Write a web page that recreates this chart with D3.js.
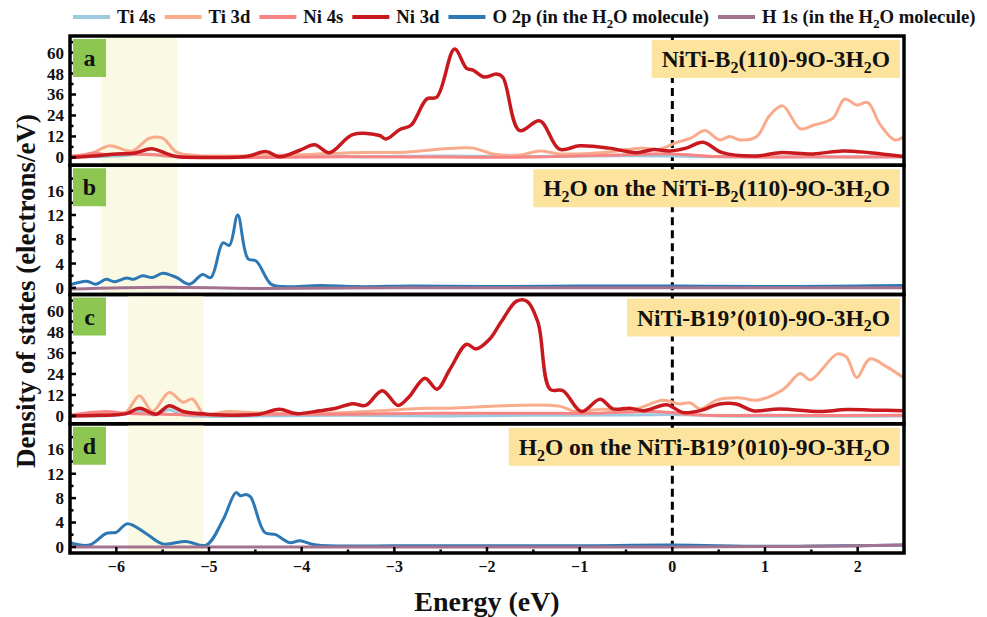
<!DOCTYPE html>
<html>
<head>
<meta charset="utf-8">
<script src="https://cdn.jsdelivr.net/npm/d3@7"></script>
<style>
  body { margin: 0; background: #fff; }
  text { font-family: "Liberation Serif", "Times New Roman", serif; font-weight: bold; fill: #111; }
</style>
</head>
<body>
<script>
var width = 987,
    height = 617;

var left = 70, right = 904, top0 = 36, bottom0 = 553;
var panelH = (bottom0 - top0) / 4;

// ***** DATA (energy eV, DOS electrons/eV) *****
var energyTicks = [-6, -5, -4, -3, -2, -1, 0, 1, 2];
var ticksBig = [0, 12, 24, 36, 48, 60];
var ticksSmall = [0, 4, 8, 12, 16];

var legendNames = ["Ti 4s", "Ti 3d", "Ni 4s", "Ni 3d", "O 2p (in the H\u2082O molecule)", "H 1s (in the H\u2082O molecule)"];
var legendColors = ["#9ecae1", "#f9ab8c", "#f98484", "#c8191e", "#2c78b4", "#a3728f"];

// panel a
var tiS_a = [[-6.5,0.5],[-6.0,0.8],[-5.7,2],[-5.5,1],[-5.2,0.3],[-4.2,0.2],[-3.8,1.5],[-3.5,0.5],[-2.5,0.8],[-1.5,0.5],[-0.5,1],[0,0.8],[0.5,0.3],[1.5,0.2],[2.5,0.2]];
var tiD_a = [[-6.5,1],[-6.3,1.5],[-6.07,6.6],[-5.9,4],[-5.82,3.7],[-5.64,11],[-5.5,11],[-5.35,3],[-5.1,1],[-4.5,1],[-4.0,1.5],[-3.48,2.7],[-2.9,3],[-2.37,5.3],[-2.15,5.3],[-1.94,2],[-1.65,1.3],[-1.43,3.7],[-1.22,2],[-0.7,3],[-0.35,5.3],[-0.14,4.7],[0.05,8.6],[0.2,11],[0.35,15.4],[0.51,10],[0.62,12],[0.73,10],[0.91,12],[1.05,24],[1.19,29.5],[1.38,16.4],[1.52,18.4],[1.73,22.3],[1.86,33.4],[1.99,30],[2.11,31.4],[2.24,19],[2.40,10],[2.5,12]];
var niS_a = [[-6.5,0.5],[-6.35,1.5],[-6.25,2.5],[-6.1,1.5],[-5.9,2],[-5.6,1.5],[-5.3,0.3],[-4.5,0],[-3.5,0.3],[-2.5,0.2],[-1.5,0.2],[-0.5,1.5],[0,2],[0.5,0.5],[1.5,0.3],[2.5,0.3]];
var niD_a = [[-6.5,0],[-6.2,1],[-6.0,2],[-5.8,2.5],[-5.62,4.9],[-5.45,2],[-5.35,0.5],[-5.0,0],[-4.6,0.5],[-4.38,3.3],[-4.24,0.3],[-4.02,4.1],[-3.86,7.2],[-3.70,2.7],[-3.45,13],[-3.16,12.5],[-3.09,10.5],[-2.94,16],[-2.82,18.4],[-2.65,33.4],[-2.54,34.6],[-2.35,62],[-2.22,51],[-2.15,50],[-2.03,46],[-1.90,47.7],[-1.83,46],[-1.65,15.4],[-1.43,20.9],[-1.22,4.7],[-1.0,6.6],[-0.68,5.3],[-0.39,2.7],[-0.2,4.5],[-0.03,3.7],[0.15,5.3],[0.33,8.6],[0.54,2.7],[0.91,0.8],[1.16,2.7],[1.52,2],[1.84,3.7],[2.13,2.7],[2.5,0.5]];

// panel b
var oP_b = [[-6.5,0.5],[-6.32,1.1],[-6.22,0.6],[-6.11,1.4],[-6.02,1.0],[-5.89,1.6],[-5.81,1.4],[-5.72,2.0],[-5.61,1.7],[-5.5,2.4],[-5.35,1.7],[-5.21,0.6],[-5.07,2.2],[-4.98,1.7],[-4.85,7.4],[-4.78,7.0],[-4.69,12],[-4.58,4.8],[-4.49,4.4],[-4.33,0.6],[-4.2,0.2],[-3.8,0.4],[-3.4,0.2],[-2.8,0.3],[-2.0,0.2],[-1.0,0.3],[0,0.3],[1.0,0.2],[2.0,0.3],[2.5,0.4]];
var hS_b = [[-6.5,-0.2],[-5.5,0.1],[-4.5,-0.1],[-3,0],[-1,0],[0,0],[1,0],[2.5,0]];

// panel c
var tiS_c = [[-6.5,0],[-6,0.3],[-5.75,2.5],[-5.6,0.5],[-5.43,3.5],[-5.28,0.5],[-4.5,0],[-3.5,0.3],[-2.5,0],[-1.5,0.3],[-0.5,0.5],[0,0.8],[0.5,0],[2.5,0]];
var tiD_c = [[-6.5,0.5],[-6.1,1.5],[-5.9,2],[-5.75,11.6],[-5.61,2.5],[-5.43,13.4],[-5.28,7.8],[-5.18,9.7],[-5.05,1],[-4.8,2.5],[-4.4,1.5],[-3.5,2],[-2.65,4.4],[-2.4,4.4],[-1.75,6],[-1.22,5.6],[-1.05,2.5],[-0.78,3.8],[-0.4,4],[-0.1,9],[0.08,6.8],[0.19,7.5],[0.30,4],[0.48,9],[0.73,10.3],[0.91,9],[1.20,15.3],[1.38,24.3],[1.49,20.6],[1.78,35.5],[1.88,33.6],[1.99,22],[2.13,32.6],[2.31,28.2],[2.5,21.7]];
var niS_c = [[-6.5,0.5],[-6.1,2.5],[-5.9,1.5],[-5.5,1],[-5,0.5],[-4.3,1],[-3.5,1],[-2.5,1.5],[-1.5,1.5],[-0.8,1.5],[-0.2,2.5],[0.3,0.5],[1,0.3],[2.5,0.3]];
var niD_c = [[-6.5,0],[-6.2,0.3],[-5.89,1.3],[-5.75,4.4],[-5.57,1],[-5.43,5.8],[-5.28,2.5],[-5.03,1],[-4.46,1],[-4.24,3.8],[-4.06,1.3],[-3.81,2.9],[-3.63,4.4],[-3.45,7],[-3.31,6],[-3.13,14.4],[-2.96,6],[-2.84,11],[-2.67,21.6],[-2.54,15.3],[-2.40,26.7],[-2.22,41],[-2.12,38.3],[-1.97,44],[-1.85,53.6],[-1.68,65.7],[-1.57,65.7],[-1.45,53.6],[-1.32,15.3],[-1.18,14.4],[-0.98,2.5],[-0.78,9.5],[-0.64,4],[-0.46,4.4],[-0.30,3],[-0.06,6.4],[0.11,2],[0.30,3],[0.51,6.8],[0.69,6.8],[0.87,3],[1.16,4],[1.59,2.5],[1.88,3.6],[2.16,3.3],[2.5,3]];

// panel d
var oP_d = [[-6.5,0.7],[-6.29,0.3],[-6.11,2.2],[-6.0,2.4],[-5.88,3.8],[-5.68,2.2],[-5.5,0.5],[-5.25,0.9],[-5.03,0.3],[-4.85,4.4],[-4.71,8.9],[-4.66,8.4],[-4.6,8.6],[-4.55,8.2],[-4.40,2.4],[-4.28,2.0],[-4.13,0.7],[-4.02,1],[-3.84,0.3],[-3,0.2],[-2,0.2],[-1,0.2],[0,0.3],[1,0.1],[2,0.2],[2.5,0.3]];
var hS_d = [[-6.5,0],[-4,0],[0,0],[1.5,0.1],[2.5,0.3]];

// titles: [text, subscript?]
var titleA = [["NiTi-B",0],["2",1],["(110)-9O-3H",0],["2",1],["O",0]];
var titleB = [["H",0],["2",1],["O on the NiTi-B",0],["2",1],["(110)-9O-3H",0],["2",1],["O",0]];
var titleC = [["NiTi-B19\u2019(010)-9O-3H",0],["2",1],["O",0]];
var titleD = [["H",0],["2",1],["O on the NiTi-B19\u2019(010)-9O-3H",0],["2",1],["O",0]];

var panels = [
  {key: "a", title: titleA, band: [-6.16, -5.34], ydomain: [-4.5, 69.5], ticks: ticksBig,
   series: [[tiS_a, 0], [tiD_a, 1], [niS_a, 2], [niD_a, 3]]},
  {key: "b", title: titleB, band: [-6.16, -5.34], ydomain: [-1.1, 20.2], ticks: ticksSmall,
   series: [[oP_b, 4], [hS_b, 5]]},
  {key: "c", title: titleC, band: [-5.87, -5.06], ydomain: [-4.5, 69.5], ticks: ticksBig,
   series: [[tiS_c, 0], [tiD_c, 1], [niS_c, 2], [niD_c, 3]]},
  {key: "d", title: titleD, band: [-5.87, -5.06], ydomain: [-1.0, 20.2], ticks: ticksSmall,
   series: [[oP_d, 4], [hS_d, 5]]}
];

var svg = d3.select("body").append("svg")
    .attr("width", width)
    .attr("height", height);

var x = d3.scaleLinear().domain([-6.5, 2.5]).range([left, right]);

function addRich(sel, pieces, size) {
  var sub = false;
  pieces.forEach(function(p) {
    var t = sel.append("tspan").text(p[0]);
    if (p[1] && !sub) { t.attr("dy", size * 0.25).attr("font-size", size * 0.68); sub = true; }
    else if (!p[1] && sub) { t.attr("dy", -size * 0.25); sub = false; }
    else if (p[1]) { t.attr("font-size", size * 0.68); }
  });
}

// *****
// PANELS
// *****
panels.forEach(function(p, i) {
  var top = top0 + i * panelH, bot = top + panelH;
  var y = d3.scaleLinear().domain(p.ydomain).range([bot, top]);
  var g = svg.append("g");

  g.append("clipPath").attr("id", "clip" + i)
    .append("rect").attr("x", left).attr("y", top).attr("width", right - left).attr("height", panelH);

  // highlighted energy window
  g.append("rect")
    .attr("x", x(p.band[0])).attr("y", top)
    .attr("width", x(p.band[1]) - x(p.band[0])).attr("height", panelH)
    .attr("fill", "#f9f9e4");

  // fermi level
  g.append("line")
    .attr("x1", x(0)).attr("x2", x(0)).attr("y1", top).attr("y2", bot)
    .attr("stroke", "#000").attr("stroke-width", 3).attr("stroke-dasharray", "8,5");

  var line = d3.line()
    .x(function(d) { return x(d[0]); })
    .y(function(d) { return y(d[1]); })
    .curve(d3.curveCatmullRom.alpha(0.5));

  g.append("g").attr("clip-path", "url(#clip" + i + ")")
    .selectAll("path")
    .data(p.series)
    .enter().append("path")
    .attr("d", function(d) { return line(d[0]); })
    .attr("fill", "none")
    .attr("stroke", function(d) { return legendColors[d[1]]; })
    .attr("stroke-width", function(d) { return d[1] == 3 ? 3.5 : 3; })
    .attr("stroke-linejoin", "round");

  // y ticks (inward) + minor ticks
  var step = p.ticks[1] - p.ticks[0];
  var minor = p.ticks.map(function(t) { return t + step / 2; }).filter(function(t) { return y(t) > top + 2; });
  g.selectAll("line.maj").data(p.ticks).enter().append("line")
    .attr("x1", left).attr("x2", left + 6)
    .attr("y1", function(d) { return y(d); }).attr("y2", function(d) { return y(d); })
    .attr("stroke", "#000").attr("stroke-width", 2.5);
  g.selectAll("line.min").data(minor).enter().append("line")
    .attr("x1", left).attr("x2", left + 3.5)
    .attr("y1", function(d) { return y(d); }).attr("y2", function(d) { return y(d); })
    .attr("stroke", "#000").attr("stroke-width", 2.5);
  g.selectAll("text.tick").data(p.ticks).enter().append("text")
    .attr("x", left - 6).attr("y", function(d) { return y(d); })
    .attr("dy", "0.35em").attr("text-anchor", "end")
    .attr("font-size", 17)
    .text(function(d) { return d; });

  // panel letter
  g.append("rect").attr("x", 73).attr("y", top + 3).attr("width", 33).attr("height", 38).attr("fill", "#8dc751");
  g.append("text").attr("x", 89.5).attr("y", top + 30).attr("text-anchor", "middle")
    .attr("font-size", 24).text(p.key);

  // title box
  var box = g.append("rect").attr("fill", "#fde49e");
  var tt = g.append("text").attr("y", top + 31).attr("font-size", 23.5);
  addRich(tt, p.title, 23.5);
  var w = tt.node().getComputedTextLength();
  tt.attr("x", 890 - w);
  box.attr("x", 890 - w - 10).attr("y", top + 4).attr("width", w + 20).attr("height", 38);

  // frame
  g.append("rect")
    .attr("x", left).attr("y", top).attr("width", right - left).attr("height", panelH)
    .attr("fill", "none").attr("stroke", "#000").attr("stroke-width", 3.5);
});

// bottom energy axis (inward ticks)
var xAxis = svg.append("g");
var halfTicks = d3.range(-6.5, 2.51, 0.5);
xAxis.selectAll("line").data(halfTicks).enter().append("line")
  .attr("x1", function(d) { return x(d); }).attr("x2", function(d) { return x(d); })
  .attr("y1", bottom0).attr("y2", function(d) { return Number.isInteger(d) ? bottom0 - 6 : bottom0 - 3.5; })
  .attr("stroke", "#000").attr("stroke-width", 2.5);
xAxis.selectAll("text").data(energyTicks).enter().append("text")
  .attr("x", function(d) { return x(d); }).attr("y", bottom0 + 19)
  .attr("text-anchor", "middle").attr("font-size", 16)
  .text(function(d) { return d < 0 ? "\u2212" + Math.abs(d) : d; });

svg.append("text")
  .attr("x", 487).attr("y", 611)
  .attr("text-anchor", "middle").attr("font-size", 28)
  .text("Energy (eV)");

svg.append("text")
  .attr("transform", "translate(35," + 291 + ") rotate(-90)")
  .attr("text-anchor", "middle").attr("font-size", 27)
  .text("Density of states (electrons/eV)");

// *****
// LEGEND
// *****
var lx = 73;
legendNames.forEach(function(name, i) {
  svg.append("line")
    .attr("x1", lx).attr("x2", lx + 37).attr("y1", 17).attr("y2", 17)
    .attr("stroke", legendColors[i]).attr("stroke-width", 4);
  var t = svg.append("text").attr("x", lx + 44).attr("y", 23).attr("font-size", 18.7);
  if (name.indexOf("\u2082") > -1) {
    var parts = name.split("\u2082");
    addRich(t, [[parts[0], 0], ["2", 1], [parts[1], 0]], 18.7);
  } else {
    t.text(name);
  }
  lx += 44 + t.node().getComputedTextLength() + 9;
});
</script>
</body>
</html>
